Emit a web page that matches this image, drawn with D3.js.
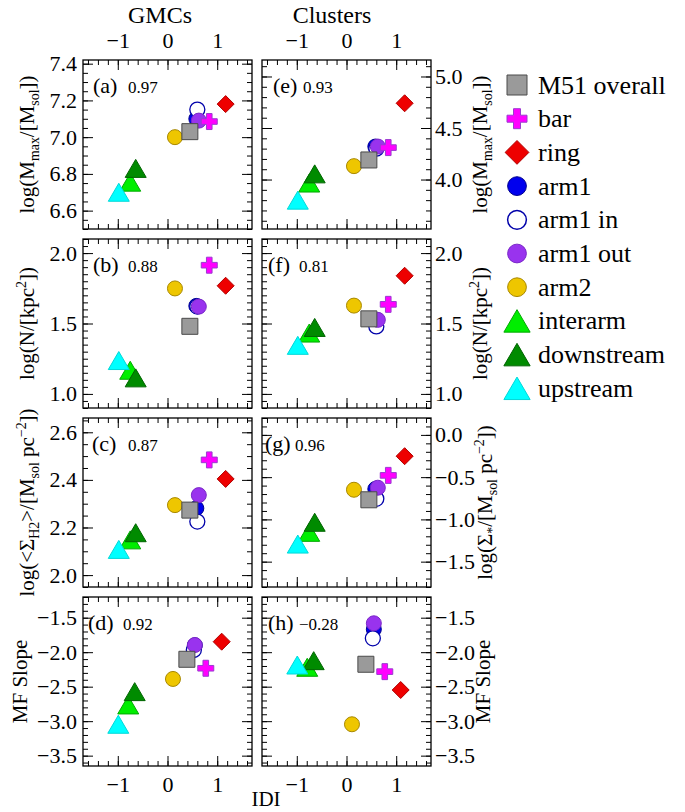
<!DOCTYPE html>
<html>
<head>
<meta charset="utf-8">
<script src="https://cdn.jsdelivr.net/npm/d3@7"></script>
<style>
  body { margin: 0; background: #fff; }
  svg, svg text { font-family: 'Liberation Serif', 'Times New Roman', serif; }
  text { white-space: pre; }
</style>
</head>
<body>
<svg id="chart" width="685" height="812" font-family="Liberation Serif, serif"></svg>
<script>
// Regions (legend order)
const regions = ['M51 overall', 'bar', 'ring', 'arm1', 'arm1 in', 'arm1 out', 'arm2', 'interarm', 'downstream', 'upstream'];

// IDI of each region (rows a-c and the MF slope row read slightly differently)
const idi   = [0.45, 0.84, 1.17, 0.58, 0.60, 0.63, 0.15, -0.75, -0.64, -0.98];
const idiMF = [0.39, 0.77, 1.09, 0.55, 0.53, 0.55, 0.11, -0.79, -0.66, -0.99];

// GMCs
const gmcMmax  = [7.03, 7.085, 7.18, 7.10, 7.15, 7.09, 7.00, 6.755, 6.83, 6.70];
const gmcN     = [1.48, 1.914, 1.768, 1.625, 1.62, 1.62, 1.749, 1.168, 1.114, 1.237];
const gmcSigma = [2.273, 2.484, 2.404, 2.281, 2.225, 2.336, 2.294, 2.148, 2.178, 2.108];
const gmcSlope = [-2.103, -2.233, -1.848, -1.90, -1.968, -1.896, -2.388, -2.765, -2.572, -3.045];

// Clusters
const clMmax  = [4.19, 4.31, 4.74, 4.32, 4.30, 4.32, 4.13, 3.966, 4.055, 3.80];
const clN     = [1.533, 1.636, 1.839, 1.52, 1.479, 1.526, 1.627, 1.432, 1.472, 1.345];
const clSigma = [-0.768, -0.479, -0.252, -0.64, -0.756, -0.625, -0.649, -1.153, -1.034, -1.292];
const clSlope = [-2.175, -2.282, -2.548, -1.668, -1.799, -1.581, -3.045, -2.219, -2.123, -2.186];

// Correlation coefficients printed in each panel
const panelLabels = ['(a)', '(b)', '(c)', '(d)', '(e)', '(f)', '(g)', '(h)'];
const corrs = ['0.97', '0.88', '0.87', '0.92', '0.93', '0.81', '0.96', '\u22120.28'];

// x ticks
const xMajor = [-1, 0, 1];

// marker styles
const markerTypes = ['square', 'plus', 'diamond', 'circle', 'circle', 'circle', 'circle', 'triangle', 'triangle', 'triangle'];
const fills   = ['#9a9a9a', '#ff00ff', '#ee0000', '#0000ee', '#ffffff', '#9933ee', '#eec600', '#00ee00', '#008b00', '#00ffff'];
const strokes = ['#4a4a4a', '#9a3bd0', '#b00000', '#00008b', '#0000aa', '#7a28c8', '#a88800', '#00a800', '#006400', '#00d8d8'];
const drawOrder = [3, 4, 5, 6, 7, 8, 9, 0, 1, 2];

// axis titles (text, 0 normal / 1 subscript / 2 superscript)
const tMmax = [['log(M', 0], ['max', 1], ['/[M', 0], ['sol', 1], ['])', 0]];
const tN = [['log(N/[kpc', 0], ['2', 2], ['])', 0]];
const tSigH2 = [['log(<\u03A3', 0], ['H2', 1], ['>/[M', 0], ['sol', 1], [' pc', 0], ['\u22122', 2], ['])', 0]];
const tSigStar = [['log(\u03A3', 0], ['*', 1], ['/[M', 0], ['sol', 1], [' pc', 0], ['\u22122', 2], ['])', 0]];
const tSlope = [['MF Slope', 0]];

const FONT = 'Liberation Serif, Times New Roman, serif';
const SANS = 'Liberation Sans, Arial, sans-serif';

function symbolPath(type, k) {
  if (type === 'square') { const s = 8 * k; return `M${-s},${-s}H${s}V${s}H${-s}Z`; }
  if (type === 'diamond') { const s = 8.5 * k; return `M0,${-s}L${s},0L0,${s}L${-s},0Z`; }
  if (type === 'plus') {
    const a = 8 * k, t = 2.8 * k;
    return `M${-t},${-a}H${t}V${-t}H${a}V${t}H${t}V${a}H${-t}V${t}H${-a}V${-t}H${-t}Z`;
  }
  if (type === 'triangle') { const w = 10.5 * k, h = 9 * k; return `M0,${-h}L${w},${h}L${-w},${h}Z`; }
  const r = 7.5 * k;
  return `M${r},0A${r},${r} 0 1,1 ${-r},0A${r},${r} 0 1,1 ${r},0Z`;
}

function tickRange(lo, hi, step) {
  const i0 = Math.ceil(lo / step - 1e-6), i1 = Math.floor(hi / step + 1e-6);
  return d3.range(i0, i1 + 1).map(i => Math.round(i * step * 1000) / 1000);
}

function addTitle(g, parts, x, y, size) {
  const t = g.append('text')
    .attr('transform', `translate(${x},${y}) rotate(-90)`)
    .attr('text-anchor', 'middle')
    .attr('font-family', FONT)
    .attr('font-size', size);
  let shift = 0;
  parts.forEach(([txt, kind]) => {
    const target = kind === 1 ? 5 : kind === 2 ? -8 : 0;
    t.append('tspan')
      .attr('dy', target - shift)
      .attr('font-size', kind ? size * 0.66 : size)
      .text(txt);
    shift = target;
  });
}

const svg = d3.select('#chart');
const W = 169, H = 169;
const colX = [83, 262];
const rowY = [60, 239, 418, 597];
const fmt = d3.format('.1f');

class IdiPanel {
  constructor(_config) {
    this.config = _config;
    this.initVis();
  }

  initVis() {
    let vis = this;
    const c = vis.config;
    vis.g = svg.append('g').attr('transform', `translate(${colX[c.col]},${rowY[c.row]})`);

    vis.xScale = d3.scaleLinear().domain([-1.7, 1.7]).range([0, W]);
    vis.yScale = d3.scaleLinear().domain(c.yDomain).range([H, 0]);

    const xMinor = tickRange(-1.7, 1.7, 0.2);
    const yMajor = tickRange(c.yDomain[0], c.yDomain[1], c.yStep);
    const yMinor = tickRange(c.yDomain[0], c.yDomain[1], c.yMinorStep);

    const axes = [
      { ax: d3.axisBottom(vis.xScale), tr: `translate(0,${H})`, major: xMajor, minor: xMinor, lab: c.row === 3, pad: 10, isX: true },
      { ax: d3.axisTop(vis.xScale), tr: 'translate(0,0)', major: xMajor, minor: xMinor, lab: c.row === 0, pad: 12, isX: true },
      { ax: d3.axisLeft(vis.yScale), tr: 'translate(0,0)', major: yMajor, minor: yMinor, lab: c.col === 0, pad: 6 },
      { ax: d3.axisRight(vis.yScale), tr: `translate(${W},0)`, major: yMajor, minor: yMinor, lab: c.col === 1, pad: 4 }
    ];

    axes.forEach(a => {
      // minor ticks
      const gm = vis.g.append('g').attr('transform', a.tr)
        .call(a.ax.tickValues(a.minor).tickSize(-5).tickSizeOuter(0).tickFormat(''));
      gm.select('.domain').remove();
      gm.selectAll('line').attr('stroke', '#000');
      // major ticks + labels
      const gM = vis.g.append('g').attr('transform', a.tr)
        .call(a.ax.tickValues(a.major).tickSize(-10).tickSizeOuter(0).tickPadding(a.pad)
          .tickFormat(a.lab ? (a.isX ? d3.format('d') : fmt) : ''));
      gM.select('.domain').remove();
      gM.attr('font-family', FONT).attr('font-size', 22);
      gM.selectAll('line').attr('stroke', '#000');
    });

    vis.g.append('rect')
      .attr('width', W).attr('height', H)
      .attr('fill', 'none').attr('stroke', '#000').attr('stroke-width', 1.3);

    // panel label + correlation
    vis.g.append('text').attr('x', c.labelDx).attr('y', 33)
      .attr('font-family', FONT).attr('font-size', 22).text(c.label);
    vis.g.append('text').attr('x', c.corrDx).attr('y', 33)
      .attr('font-family', SANS).attr('font-size', 17).text(c.corr);

    // axis title
    addTitle(svg, c.title, c.titleX, rowY[c.row] + H / 2, 21);

    vis.updateVis();
  }

  updateVis() {
    let vis = this;
    const c = vis.config;
    vis.g.selectAll('.pt')
      .data(drawOrder)
      .join('path')
      .attr('class', 'pt')
      .attr('transform', i => `translate(${vis.xScale(c.x[i])},${vis.yScale(c.y[i])})`)
      .attr('d', i => symbolPath(markerTypes[i], 1))
      .attr('fill', i => fills[i])
      .attr('stroke', i => strokes[i])
      .attr('stroke-width', i => (i === 4 ? 1.3 : 1));
  }
}

const configs = [
  { col: 0, row: 0, x: idi, y: gmcMmax, yDomain: [6.5, 7.42], yStep: 0.2, yMinorStep: 0.05, title: tMmax, titleX: 34, labelDx: 10, corrDx: 45 },
  { col: 0, row: 1, x: idi, y: gmcN, yDomain: [0.9, 2.1], yStep: 0.5, yMinorStep: 0.05, title: tN, titleX: 34, labelDx: 10, corrDx: 45 },
  { col: 0, row: 2, x: idi, y: gmcSigma, yDomain: [1.95, 2.66], yStep: 0.2, yMinorStep: 0.05, title: tSigH2, titleX: 34, labelDx: 9, corrDx: 45 },
  { col: 0, row: 3, x: idiMF, y: gmcSlope, yDomain: [-3.65, -1.2], yStep: 0.5, yMinorStep: 0.1, title: tSlope, titleX: 27, labelDx: 5, corrDx: 40 },
  { col: 1, row: 0, x: idi, y: clMmax, yDomain: [3.52, 5.16], yStep: 0.5, yMinorStep: 0.1, title: tMmax, titleX: 487, labelDx: 11, corrDx: 41 },
  { col: 1, row: 1, x: idi, y: clN, yDomain: [0.9, 2.1], yStep: 0.5, yMinorStep: 0.05, title: tN, titleX: 487, labelDx: 6, corrDx: 37 },
  { col: 1, row: 2, x: idi, y: clSigma, yDomain: [-1.8, 0.2], yStep: 0.5, yMinorStep: 0.1, title: tSigStar, titleX: 492, labelDx: 3, corrDx: 33 },
  { col: 1, row: 3, x: idiMF, y: clSlope, yDomain: [-3.65, -1.2], yStep: 0.5, yMinorStep: 0.1, title: tSlope, titleX: 490, labelDx: 6, corrDx: 37 }
];

configs.forEach((c, i) => {
  c.label = panelLabels[i];
  c.corr = corrs[i];
  new IdiPanel(c);
});

// column titles and x label
svg.append('text').attr('x', 160).attr('y', 23).attr('text-anchor', 'middle')
  .attr('font-family', FONT).attr('font-size', 24).text('GMCs');
svg.append('text').attr('x', 332).attr('y', 23).attr('text-anchor', 'middle')
  .attr('font-family', FONT).attr('font-size', 24).text('Clusters');
svg.append('text').attr('x', 266).attr('y', 806).attr('text-anchor', 'middle')
  .attr('font-family', FONT).attr('font-size', 21).text('IDI');

// legend
const legend = svg.append('g').attr('transform', 'translate(517,85)');
regions.forEach((name, i) => {
  const row = legend.append('g').attr('transform', `translate(0,${i * 33.7})`);
  row.append('path')
    .attr('d', symbolPath(markerTypes[i], markerTypes[i] === 'diamond' ? 1.4 : 1.25))
    .attr('fill', fills[i]).attr('stroke', strokes[i]).attr('stroke-width', i === 4 ? 1.5 : 1);
  row.append('text').attr('x', 21).attr('y', 8.5)
    .attr('font-family', FONT).attr('font-size', 26).text(name);
});
</script>
</body>
</html>
